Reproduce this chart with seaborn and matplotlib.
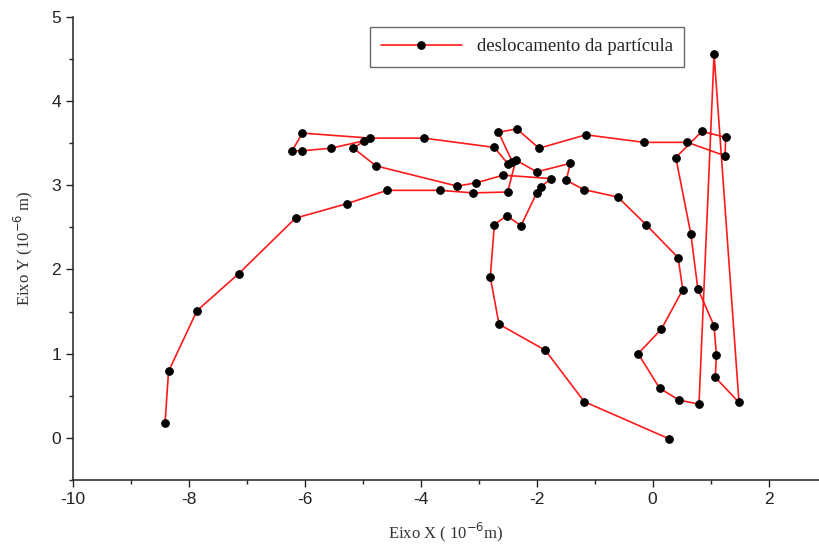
import matplotlib
matplotlib.use("Agg")
import matplotlib.pyplot as plt
from matplotlib.ticker import MultipleLocator
import seaborn as sns
import pandas as pd

# particle trajectory (units of 1e-6 m), in order along the path
x_pos = [-8.41, -8.35, -7.86, -7.14, -6.16, -5.28, -4.58, -3.67, -3.10, -2.50,
         -2.36, -2.00, -1.42, -1.49, -1.19, -0.60, -0.11, 0.44, 0.52, 0.15,
         -0.25, 0.12, 0.45, 0.80, 1.06, 1.49, 1.08, 1.10, 1.06, 0.78,
         0.66, 0.40, 0.85, 1.26, 1.25, 0.60, -0.15, -1.15, -1.96, -2.34,
         -2.66, -2.42, -2.49, -2.73, -3.94, -4.87, -6.04, -6.22, -6.05, -5.55,
         -4.97, -5.16, -4.77, -3.37, -3.04, -2.58, -1.75, -1.93, -2.00, -2.27,
         -2.52, -2.73, -2.80, -2.65, -1.85, -1.18, 0.28]
y_pos = [0.18, 0.79, 1.51, 1.95, 2.61, 2.78, 2.94, 2.94, 2.91, 2.92,
         3.30, 3.16, 3.26, 3.06, 2.95, 2.86, 2.53, 2.14, 1.76, 1.29,
         1.00, 0.59, 0.45, 0.40, 4.56, 0.42, 0.72, 0.98, 1.33, 1.77,
         2.42, 3.33, 3.64, 3.57, 3.35, 3.51, 3.51, 3.60, 3.44, 3.67,
         3.63, 3.28, 3.25, 3.45, 3.56, 3.56, 3.62, 3.41, 3.41, 3.44,
         3.53, 3.44, 3.23, 2.99, 3.03, 3.12, 3.08, 2.98, 2.91, 2.52,
         2.64, 2.53, 1.91, 1.35, 1.04, 0.43, -0.01]

df = pd.DataFrame({"x": x_pos, "y": y_pos, "serie": "deslocamento da partícula"})

sns.set_style("ticks")
plt.rcParams['font.family'] = ['Liberation Sans', 'DejaVu Sans']
plt.rcParams['axes.unicode_minus'] = False

fig = plt.figure(figsize=(8.19, 5.46), dpi=100)
ax = fig.add_axes([0.089, 0.121, 0.911, 0.848])

sns.lineplot(data=df, x="x", y="y", hue="serie", sort=False, estimator=None,
             palette=["#ff1a1a"], linewidth=1.2, marker="o", markersize=5.5,
             markerfacecolor="black", markeredgecolor="black", ax=ax)

ax.set_xlim(-10, 2.87)
ax.set_ylim(-0.5, 5)
ax.xaxis.set_major_locator(MultipleLocator(2))
ax.xaxis.set_minor_locator(MultipleLocator(1))
ax.yaxis.set_major_locator(MultipleLocator(1))
ax.yaxis.set_minor_locator(MultipleLocator(0.5))
ax.tick_params(which="major", direction="out", length=5, width=1, labelsize=12.5,
               colors="#222222")
ax.tick_params(which="minor", direction="out", length=3, width=1, colors="#222222")
sns.despine(ax=ax)
for s in ["left", "bottom"]:
    ax.spines[s].set_color("#222222")
    ax.spines[s].set_linewidth(1.1)

serif = ['Liberation Serif', 'DejaVu Serif']
ax.set_xlabel("Eixo X ( 10$^{\\mathrm{-6}}$m)", family=serif, fontsize=12, color="#333333", labelpad=10)
ax.set_ylabel("Eixo Y (10$^{\\mathrm{-6}}$ m)", family=serif, fontsize=12, color="#333333", labelpad=12)

leg = ax.legend(loc="upper left", bbox_to_anchor=(0.398, 0.978), frameon=True,
                fancybox=False, handlelength=4.3, borderpad=0.6, borderaxespad=0,
                prop={"family": serif, "size": 13.5})
leg.get_frame().set_edgecolor("#444444")
leg.get_frame().set_linewidth(1.0)

fig.savefig("out.png", dpi=100)
